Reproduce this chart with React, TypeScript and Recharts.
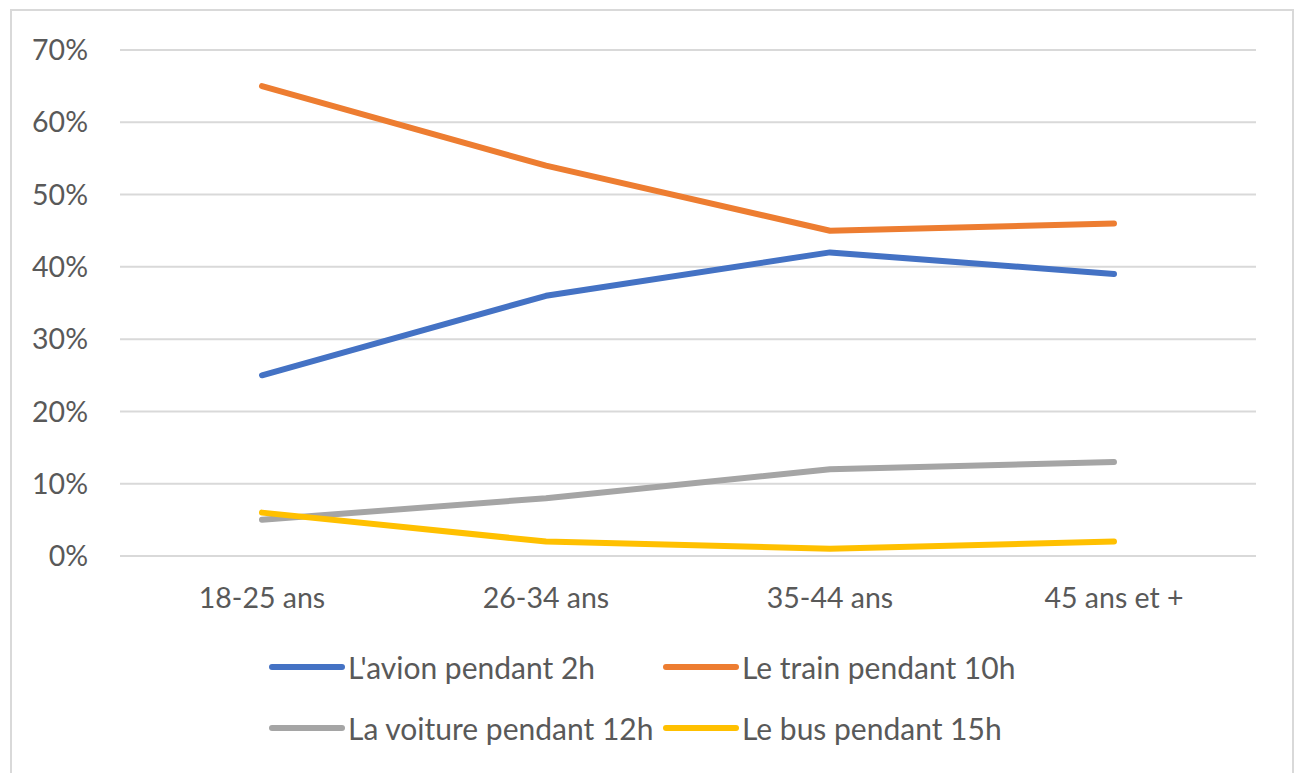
import React from "react";
import {
  LineChart,
  Line,
  XAxis,
  YAxis,
  CartesianGrid,
  Legend,
} from "recharts";

const ageGroups = ["18-25 ans", "26-34 ans", "35-44 ans", "45 ans et +"];
const avion = [25, 36, 42, 39];
const train = [65, 54, 45, 46];
const voiture = [5, 8, 12, 13];
const bus = [6, 2, 1, 2];
const yTicks = [0, 10, 20, 30, 40, 50, 60, 70];

const series = [
  { key: "avion", name: "L'avion pendant 2h", color: "#4472C4" },
  { key: "train", name: "Le train pendant 10h", color: "#ED7D31" },
  { key: "voiture", name: "La voiture pendant 12h", color: "#A5A5A5" },
  { key: "bus", name: "Le bus pendant 15h", color: "#FFC000" },
];

const data = ageGroups.map((age, i) => ({
  age,
  avion: avion[i],
  train: train[i],
  voiture: voiture[i],
  bus: bus[i],
}));

const FONT = "Lato, 'DejaVu Sans', sans-serif";
const TEXT = "#595959";

// legend laid out in a 2x2 grid like the Excel original
function renderLegend() {
  return (
    <div style={{ position: "relative", height: 140, width: 1280 }}>
      {series.map((s, i) => {
        const col = i % 2;
        const row = Math.floor(i / 2);
        return (
          <div
            key={s.key}
            style={{
              position: "absolute",
              left: col === 0 ? 257 : 651,
              top: row === 0 ? 43 : 104,
              height: 36,
              display: "flex",
              alignItems: "center",
              fontFamily: FONT,
              fontSize: 30,
              color: TEXT,
              whiteSpace: "nowrap",
            }}
          >
            <svg width={76} height={8} style={{ marginRight: 3 }}>
              <line
                x1={3}
                y1={4}
                x2={73}
                y2={4}
                stroke={s.color}
                strokeWidth={6}
                strokeLinecap="round"
              />
            </svg>
            <span>{s.name}</span>
          </div>
        );
      })}
    </div>
  );
}

export default function App() {
  return (
    <div
      style={{
        position: "absolute",
        left: 10,
        top: 9,
        width: 1284,
        height: 770,
        border: "2px solid #d9d9d9",
        boxSizing: "border-box",
        background: "#fff",
      }}
    >
      <LineChart
        width={1280}
        height={766}
        data={data}
        margin={{ top: 39, right: 36, left: 0, bottom: 31 }}
        style={{ fontFamily: FONT }}
      >
        <CartesianGrid vertical={false} stroke="#d9d9d9" strokeWidth={2} />
        <XAxis
          dataKey="age"
          axisLine={false}
          tickLine={false}
          height={50}
          tickMargin={26}
          padding={{ left: 142, right: 142 }}
          tick={{ fill: TEXT, fontSize: 28.5 }}
          interval={0}
        />
        <YAxis
          width={108}
          domain={[0, 70]}
          ticks={yTicks}
          axisLine={false}
          tickLine={false}
          tickMargin={26}
          tickFormatter={(v) => `${v}%`}
          tick={{ fill: TEXT, fontSize: 28.5 }}
        />
        <Legend
          verticalAlign="bottom"
          wrapperStyle={{ left: 0, width: 1280 }}
          content={renderLegend}
        />
        {series.map((s) => (
          <Line
            key={s.key}
            type="linear"
            dataKey={s.key}
            name={s.name}
            stroke={s.color}
            strokeWidth={6}
            strokeLinecap="round"
            strokeLinejoin="round"
            dot={false}
            activeDot={false}
            isAnimationActive={false}
          />
        ))}
      </LineChart>
    </div>
  );
}
